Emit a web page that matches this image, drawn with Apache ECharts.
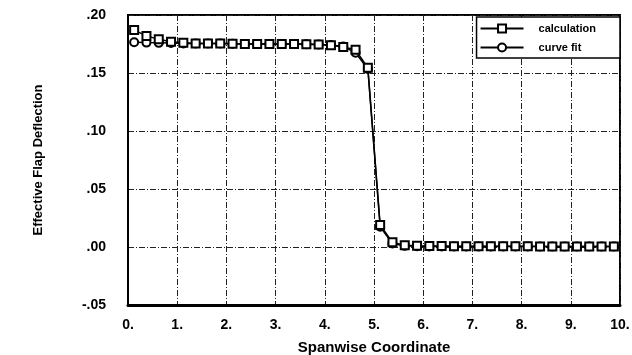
<!DOCTYPE html>
<html>
<head>
<meta charset="utf-8">
<script src="https://cdn.jsdelivr.net/npm/echarts@6/dist/echarts.min.js"></script>
<style>
  html, body { margin: 0; padding: 0; background: #fff; }
  #chart { width: 632px; height: 355px; }
</style>
</head>
<body>
<div id="chart"></div>
<script>
// Spanwise stations
var spanX = [
  0.125, 0.375, 0.625, 0.875, 1.125, 1.375, 1.625, 1.875, 2.125, 2.375,
  2.625, 2.875, 3.125, 3.375, 3.625, 3.875, 4.125, 4.375, 4.625, 4.875,
  5.125, 5.375, 5.625, 5.875, 6.125, 6.375, 6.625, 6.875, 7.125, 7.375,
  7.625, 7.875, 8.125, 8.375, 8.625, 8.875, 9.125, 9.375, 9.625, 9.875
];

// Effective flap deflection, computed
var calculation = [
  0.187, 0.182, 0.179, 0.177, 0.176, 0.1755, 0.1755, 0.1755, 0.1752, 0.175,
  0.175, 0.175, 0.175, 0.175, 0.1748, 0.1745, 0.174, 0.1725, 0.170, 0.1545,
  0.019, 0.004, 0.0015, 0.001, 0.0008, 0.0008, 0.0007, 0.0007, 0.0007, 0.0006,
  0.0006, 0.0006, 0.0006, 0.0005, 0.0005, 0.0005, 0.0005, 0.0005, 0.0005, 0.0005
];

// Effective flap deflection, curve fit
var curveFit = [
  0.1765, 0.1762, 0.176, 0.1758, 0.1755, 0.1755, 0.1755, 0.1754, 0.1752, 0.175,
  0.175, 0.175, 0.175, 0.175, 0.1748, 0.1746, 0.1742, 0.1728, 0.1675, 0.1535,
  0.0175, 0.003, 0.001, 0.0006, 0.0005, 0.0005, 0.0005, 0.0005, 0.0005, 0.0005,
  0.0005, 0.0005, 0.0005, 0.0005, 0.0005, 0.0005, 0.0005, 0.0005, 0.0005, 0.0005
];

var xTicks = [0, 1, 2, 3, 4, 5, 6, 7, 8, 9, 10];
var yTicks = [-0.05, 0.00, 0.05, 0.10, 0.15, 0.20];

function pairs(xs, ys) {
  return xs.map(function (x, i) { return [x, ys[i]]; });
}

var gridDash = { color: '#222', width: 1, type: [6, 2, 1, 2] };
var font = 'Liberation Sans, Arial, Helvetica, sans-serif';

var chart = echarts.init(document.getElementById('chart'), null, { renderer: 'canvas' });
chart.setOption({
  animation: false,
  backgroundColor: '#fff',
  grid: {
    left: 128, right: 12, top: 15, bottom: 50,
    containLabel: false, outerBoundsMode: 'none',
    show: true, borderColor: '#000', borderWidth: 2, backgroundColor: 'transparent'
  },
  legend: {
    orient: 'vertical',
    right: 12, top: 17,
    backgroundColor: '#fff',
    borderColor: '#000', borderWidth: 1.5, borderRadius: 0,
    padding: [6, 24, 5, 3],
    itemWidth: 43, itemHeight: 10, itemGap: 8,
    textStyle: { fontFamily: font, fontSize: 11, fontWeight: 'bold', color: '#000', padding: [0, 0, 0, 10] },
    data: ['calculation', 'curve fit']
  },
  xAxis: {
    type: 'value',
    min: xTicks[0], max: xTicks[xTicks.length - 1], interval: 1,
    name: 'Spanwise Coordinate',
    nameLocation: 'middle', nameGap: 35,
    nameTextStyle: { fontFamily: font, fontSize: 15, color: '#000', fontWeight: 'bold' },
    axisLine: { show: true, onZero: false, lineStyle: { color: '#000', width: 3 } },
    axisTick: { show: false },
    axisLabel: {
      fontFamily: font, fontSize: 14, fontWeight: 'bold', color: '#000', margin: 13,
      formatter: function (v) { return v + '.'; }
    },
    splitLine: { show: true, lineStyle: gridDash }
  },
  yAxis: {
    type: 'value',
    min: yTicks[0], max: yTicks[yTicks.length - 1], interval: 0.05,
    name: 'Effective Flap Deflection',
    nameLocation: 'middle', nameGap: 83, nameRotate: 90,
    nameTextStyle: { fontFamily: font, fontSize: 13, fontWeight: 'bold', color: '#000' },
    axisLine: { show: true, onZero: false, lineStyle: { color: '#000', width: 2 } },
    axisTick: { show: false },
    axisLabel: {
      fontFamily: font, fontSize: 14, fontWeight: 'bold', color: '#000', margin: 22,
      formatter: function (v) {
        var s = Math.abs(v).toFixed(2).replace(/^0/, '');
        return (v < -1e-9 ? '-' : '') + s;
      }
    },
    splitLine: { show: true, lineStyle: gridDash }
  },
  series: [
    {
      name: 'curve fit',
      type: 'line',
      data: pairs(spanX, curveFit),
      symbol: 'circle', symbolSize: 8,
      lineStyle: { color: '#000', width: 1.5 },
      itemStyle: { color: '#fff', borderColor: '#000', borderWidth: 2 },
      z: 3
    },
    {
      name: 'calculation',
      type: 'line',
      data: pairs(spanX, calculation),
      symbol: 'rect', symbolSize: 8,
      lineStyle: { color: '#000', width: 1.5 },
      itemStyle: { color: '#fff', borderColor: '#000', borderWidth: 2 },
      z: 4
    }
  ]
});
</script>
</body>
</html>
